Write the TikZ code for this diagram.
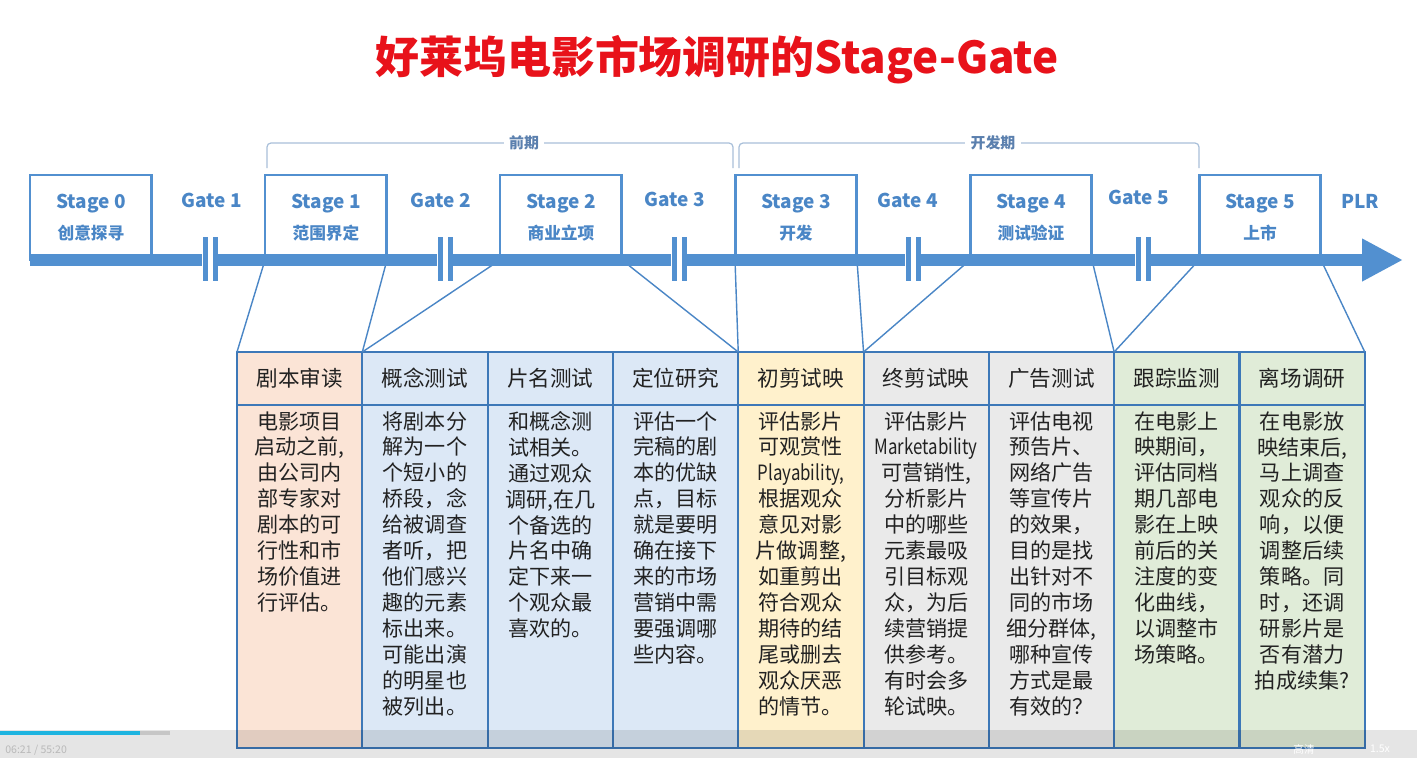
\documentclass[tikz,border=0pt]{standalone}
\usepackage{fontspec}
\setmainfont{Noto Sans CJK SC}
\usetikzlibrary{positioning,arrows.meta}

\definecolor{barblue}{HTML}{5290D0}
\definecolor{lineblue}{HTML}{4A86C6}
\definecolor{gridblue}{HTML}{3D78B8}
\definecolor{bracketgray}{HTML}{A9C0DA}
\definecolor{labelblue}{HTML}{5B80AE}
\definecolor{titlered}{HTML}{E8121A}
\definecolor{peach}{HTML}{FBE4D6}
\definecolor{paleblue}{HTML}{DCE8F6}
\definecolor{paleyellow}{HTML}{FFF1CC}
\definecolor{palegray}{HTML}{EAEAEA}
\definecolor{palegreen}{HTML}{E0ECD8}
\definecolor{bodytext}{HTML}{222222}
\definecolor{progress}{HTML}{1EB4E0}

\newcommand{\stagesub}[1]{{\fontsize{9.5pt}{17.5pt}\selectfont #1}}
\newcommand{\narrow}[1]{\scalebox{0.8}[1]{#1}}

\begin{document}
\begin{tikzpicture}[x=0.02cm, y=-0.02cm,
    stagebox/.style={draw=barblue, line width=1.7pt, fill=white, anchor=north west,
        minimum width=2.44cm, minimum height=1.7cm, inner sep=0pt, outer sep=0pt,
        align=center, text=lineblue, font=\fontsize{10.8pt}{17.5pt}\selectfont\bfseries},
    gatelbl/.style={text=lineblue, font=\fontsize{10.8pt}{13pt}\selectfont\bfseries},
    gatemark/.style={draw=barblue, line width=0.1cm},
    bar/.style={draw=barblue, line width=0.24cm, -{Triangle[length=0.82cm, width=0.8cm]}},
    link/.style={draw=lineblue, line width=0.8pt},
    bracket/.style={draw=bracketgray, line width=0.7pt, rounded corners=0.08cm},
    phase/.style={fill=white, inner sep=3pt, text=labelblue, font=\fontsize{8.5pt}{10pt}\selectfont\bfseries},
    headcell/.style={draw=gridblue, line width=1.2pt, minimum width=2.5067cm, minimum height=1.06cm,
        inner sep=0pt, outer sep=0pt, text=bodytext, font=\fontsize{12.3pt}{14pt}\selectfont},
    bodycell/.style={draw=gridblue, line width=1.2pt, minimum width=2.5067cm, minimum height=6.86cm,
        inner sep=0pt, outer sep=0pt},
    bodytxt/.style={anchor=north, inner sep=0pt, align=center, text=bodytext,
        font=\fontsize{12pt}{14.75pt}\selectfont},
    title/.style={text=titlered, font=\fontsize{25pt}{30pt}\selectfont\bfseries},
    playtxt/.style={inner sep=0pt, font=\fontsize{6pt}{7pt}\selectfont}]

    \clip (0,0) rectangle (1417,758);
    \fill[white] (0,0) rectangle (1417,758);

    \node[title] (ttl) at (717,60) {好莱坞电影市场调研的Stage-Gate};

    % table heads
    \node[headcell, fill=peach, anchor=north west] (h1) at (237,352) {剧本审读};
    \node[headcell, fill=paleblue, right=0pt of h1] (h2) {概念测试};
    \node[headcell, fill=paleblue, right=0pt of h2] (h3) {片名测试};
    \node[headcell, fill=paleblue, right=0pt of h3] (h4) {定位研究};
    \node[headcell, fill=paleyellow, right=0pt of h4] (h5) {初剪试映};
    \node[headcell, fill=palegray, right=0pt of h5] (h6) {终剪试映};
    \node[headcell, fill=palegray, right=0pt of h6] (h7) {广告测试};
    \node[headcell, fill=palegreen, right=0pt of h7] (h8) {跟踪监测};
    \node[headcell, fill=palegreen, right=0pt of h8] (h9) {离场调研};

    % table bodies
    \node[bodycell, fill=peach, below=0pt of h1] (b1) {};
    \node[bodycell, fill=paleblue, below=0pt of h2] (b2) {};
    \node[bodycell, fill=paleblue, below=0pt of h3] (b3) {};
    \node[bodycell, fill=paleblue, below=0pt of h4] (b4) {};
    \node[bodycell, fill=paleyellow, below=0pt of h5] (b5) {};
    \node[bodycell, fill=palegray, below=0pt of h6] (b6) {};
    \node[bodycell, fill=palegray, below=0pt of h7] (b7) {};
    \node[bodycell, fill=palegreen, below=0pt of h8] (b8) {};
    \node[bodycell, fill=palegreen, below=0pt of h9] (b9) {};

    \node[bodytxt] (t1) at ([yshift=-0.12cm]b1.north) {电影项目\\启动之前,\\由公司内\\部专家对\\剧本的可\\行性和市\\场价值进\\行评估。};
    \node[bodytxt] (t2) at ([yshift=-0.12cm]b2.north) {将剧本分\\解为一个\\个短小的\\桥段，念\\给被调查\\者听，把\\他们感兴\\趣的元素\\标出来。\\可能出演\\的明星也\\被列出。};
    \node[bodytxt] (t3) at ([yshift=-0.12cm]b3.north) {和概念测\\试相关。\\通过观众\\调研,在几\\个备选的\\片名中确\\定下来一\\个观众最\\喜欢的。};
    \node[bodytxt] (t4) at ([yshift=-0.12cm]b4.north) {评估一个\\完稿的剧\\本的优缺\\点，目标\\就是要明\\确在接下\\来的市场\\营销中需\\要强调哪\\些内容。};
    \node[bodytxt] (t5) at ([yshift=-0.12cm]b5.north) {评估影片\\可观赏性\\\narrow{Playability,}\\根据观众\\意见对影\\片做调整,\\如重剪出\\符合观众\\期待的结\\尾或删去\\观众厌恶\\的情节。};
    \node[bodytxt] (t6) at ([yshift=-0.12cm]b6.north) {评估影片\\\narrow{Marketability}\\可营销性,\\分析影片\\中的哪些\\元素最吸\\引目标观\\众，为后\\续营销提\\供参考。\\有时会多\\轮试映。};
    \node[bodytxt] (t7) at ([yshift=-0.12cm]b7.north) {评估电视\\预告片、\\网络广告\\等宣传片\\的效果，\\目的是找\\出针对不\\同的市场\\细分群体,\\哪种宣传\\方式是最\\有效的？};
    \node[bodytxt] (t8) at ([yshift=-0.12cm]b8.north) {在电影上\\映期间，\\评估同档\\期几部电\\影在上映\\前后的关\\注度的变\\化曲线，\\以调整市\\场策略。};
    \node[bodytxt] (t9) at ([yshift=-0.12cm]b9.north) {在电影放\\映结束后,\\马上调查\\观众的反\\响，以便\\调整后续\\策略。同\\时，还调\\研影片是\\否有潜力\\拍成续集?};

    % stages
    \node[stagebox] (s0) at (30,175) {Stage 0\\\stagesub{创意探寻}};
    \node[stagebox] (s1) at (265,175) {Stage 1\\\stagesub{范围界定}};
    \node[stagebox] (s2) at (500,175) {Stage 2\\\stagesub{商业立项}};
    \node[stagebox] (s3) at (735,175) {Stage 3\\\stagesub{开发}};
    \node[stagebox] (s4) at (970,175) {Stage 4\\\stagesub{测试验证}};
    \node[stagebox] (s5) at (1199,175) {Stage 5\\\stagesub{上市}};

    % stage -> table
    \draw[link] (s1.south west) -- (h1.north west);
    \draw[link] (s1.south east) -- (h2.north west);
    \draw[link] (s2.south west) -- (h2.north west);
    \draw[link] (s2.south east) -- (h5.north west);
    \draw[link] (s3.south west) -- (h5.north west);
    \draw[link] (s3.south east) -- (h6.north west);
    \draw[link] (s4.south west) -- (h6.north west);
    \draw[link] (s4.south east) -- (h8.north west);
    \draw[link] (s5.south west) -- (h8.north west);
    \draw[link] (s5.south east) -- (h9.north east);

    % time line
    \draw[bar] (30,260) -- (1403,260);

    \node[gatelbl] (g1) at (212,200) {Gate 1};
    \node[gatelbl] (g2) at (441,200) {Gate 2};
    \node[gatelbl] (g3) at (675,199) {Gate 3};
    \node[gatelbl] (g4) at (908,200) {Gate 4};
    \node[gatelbl] (g5) at (1139,197) {Gate 5};
    \node[gatelbl] (plr) at (1360,201) {PLR};

    \fill[white] (202,248) rectangle (218,272); \draw[gatemark] (205,237) -- (205,281) (215,237) -- (215,281);
    \fill[white] (437,248) rectangle (453,272); \draw[gatemark] (440,237) -- (440,281) (450,237) -- (450,281);
    \fill[white] (671,248) rectangle (687,272); \draw[gatemark] (674,237) -- (674,281) (684,237) -- (684,281);
    \fill[white] (905,248) rectangle (921,272); \draw[gatemark] (908,237) -- (908,281) (918,237) -- (918,281);
    \fill[white] (1135,248) rectangle (1151,272); \draw[gatemark] (1138,237) -- (1138,281) (1148,237) -- (1148,281);

    % phases
    \draw[bracket] (267,168) -- (267,143) -- (733,143) -- (733,168);
    \draw[bracket] (739,168) -- (739,143) -- (1199,143) -- (1199,168);
    \node[phase] (p1) at (524,143) {前期};
    \node[phase] (p2) at (993,143) {开发期};

    % player bar
    \fill[black, opacity=0.1] (0,730) rectangle (1417,758);
    \fill[progress] (0,731) rectangle (140,735);
    \fill[gray!45] (140,731) rectangle (170,735);
    \node[playtxt, anchor=west, text=gray!55] (clock) at (5,750) {06:21 / 55:20};
    \node[playtxt, text=white] (hd) at (1304,749) {高清};
    \node[playtxt, text=white] (spd) at (1380,749) {1.5x};
\end{tikzpicture}
\end{document}
